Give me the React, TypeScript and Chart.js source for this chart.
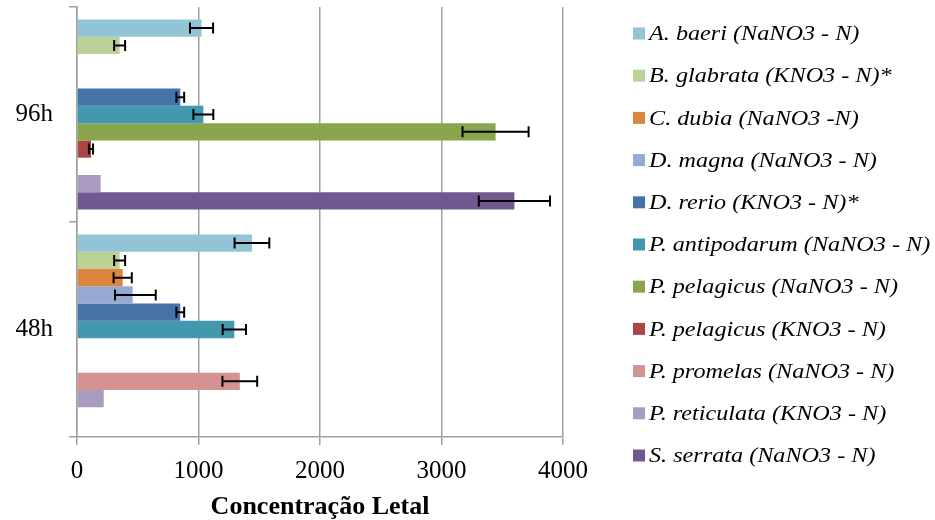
import React, { useEffect, useRef } from 'react';
import { Chart, registerables } from 'chart.js';

Chart.register(...registerables);

// ---- data ----
const categories = ['96h', '48h'];

const seriesNames = [
  'A. baeri (NaNO3 - N)',
  'B. glabrata (KNO3 - N)*',
  'C. dubia (NaNO3 -N)',
  'D. magna (NaNO3 - N)',
  'D. rerio (KNO3 - N)*',
  'P. antipodarum (NaNO3 - N)',
  'P. pelagicus (NaNO3 - N)',
  'P. pelagicus (KNO3 - N)',
  'P. promelas (NaNO3 - N)',
  'P. reticulata (KNO3 - N)',
  'S. serrata (NaNO3 - N)',
];

const seriesColors = [
  '#93C4D5',
  '#BBD197',
  '#DD853E',
  '#95A9D2',
  '#4572A7',
  '#4198AF',
  '#89A54E',
  '#AA4643',
  '#D49392',
  '#AA9CC0',
  '#71588F',
];

type Err = number | [number, number] | null;

// values: [96h, 48h]
const valABaeri: (number | null)[] = [1025, 1440];
const valBGlabrata: (number | null)[] = [351, 351];
const valCDubia: (number | null)[] = [null, 376];
const valDMagna: (number | null)[] = [null, 458];
const valDRerio: (number | null)[] = [850, 850];
const valPAntipodarum: (number | null)[] = [1040, 1295];
const valPPelagicusNa: (number | null)[] = [3445, null];
const valPPelagicusK: (number | null)[] = [115, null];
const valPPromelas: (number | null)[] = [null, 1340];
const valPReticulata: (number | null)[] = [195, 220];
const valSSerrata: (number | null)[] = [3600, null];

// error bars: symmetric value or [minus, plus]
const errABaeri: Err[] = [95, 143];
const errBGlabrata: Err[] = [45, 45];
const errCDubia: Err[] = [null, 75];
const errDMagna: Err[] = [null, [145, 190]];
const errDRerio: Err[] = [32, 32];
const errPAntipodarum: Err[] = [82, 96];
const errPPelagicusNa: Err[] = [272, null];
const errPPelagicusK: Err[] = [17, null];
const errPPromelas: Err[] = [null, 143];
const errPReticulata: Err[] = [null, null];
const errSSerrata: Err[] = [293, null];

const xTicks = [0, 1000, 2000, 3000, 4000];
const xTickLabels = ['0', '1000', '2000', '3000', '4000'];
const xTitle = 'Concentração Letal';

const seriesValues = [
  valABaeri, valBGlabrata, valCDubia, valDMagna, valDRerio, valPAntipodarum,
  valPPelagicusNa, valPPelagicusK, valPPromelas, valPReticulata, valSSerrata,
];
const seriesErrors = [
  errABaeri, errBGlabrata, errCDubia, errDMagna, errDRerio, errPAntipodarum,
  errPPelagicusNa, errPPelagicusK, errPPromelas, errPReticulata, errSSerrata,
];

const SERIF = '"Liberation Serif", "Times New Roman", serif';
const GRID = '#a0a0a0';

const errorBarPlugin = {
  id: 'errorBars',
  afterDatasetsDraw(chart: any) {
    const ctx = chart.ctx;
    const xScale = chart.scales.x;
    ctx.save();
    ctx.strokeStyle = '#000';
    ctx.lineWidth = 2;
    chart.data.datasets.forEach((ds: any, i: number) => {
      const meta = chart.getDatasetMeta(i);
      const errs = seriesErrors[i];
      meta.data.forEach((el: any, j: number) => {
        const v = ds.data[j];
        const e = errs[j];
        if (v == null || e == null) return;
        const minus = Array.isArray(e) ? e[0] : e;
        const plus = Array.isArray(e) ? e[1] : e;
        const x1 = xScale.getPixelForValue(v - minus);
        const x2 = xScale.getPixelForValue(v + plus);
        const y = el.y;
        const cap = 5.5;
        ctx.beginPath();
        ctx.moveTo(x1, y);
        ctx.lineTo(x2, y);
        ctx.moveTo(x1, y - cap);
        ctx.lineTo(x1, y + cap);
        ctx.moveTo(x2, y - cap);
        ctx.lineTo(x2, y + cap);
        ctx.stroke();
      });
    });
    ctx.restore();
  },
};

const sideLegendPlugin = {
  id: 'sideLegend',
  afterDraw(chart: any) {
    const ctx = chart.ctx;
    const boxX = 633;
    const box = 12;
    const textX = 649;
    const firstY = 33.5;
    const step = 42.2;
    const stretch = 1.1;
    ctx.save();
    ctx.font = `italic 22px ${SERIF}`;
    ctx.textBaseline = 'middle';
    ctx.textAlign = 'left';
    chart.data.datasets.forEach((ds: any, i: number) => {
      const cy = firstY + i * step;
      ctx.fillStyle = ds.backgroundColor;
      ctx.fillRect(boxX, cy - box / 2, box, box);
      ctx.fillStyle = '#000';
      ctx.save();
      ctx.translate(textX, cy + 1);
      ctx.scale(stretch, 1);
      ctx.fillText(ds.label, 0, 0);
      ctx.restore();
    });
    ctx.restore();
  },
};

export default function App() {
  const canvasRef = useRef<HTMLCanvasElement | null>(null);

  useEffect(() => {
    if (!canvasRef.current) return;
    const chart = new Chart(canvasRef.current, {
      type: 'bar',
      data: {
        labels: categories,
        datasets: seriesNames.map((name, i) => ({
          label: name,
          data: seriesValues[i],
          backgroundColor: seriesColors[i],
          borderWidth: 0,
          categoryPercentage: 0.884,
          barPercentage: 1.0,
        })),
      },
      options: {
        indexAxis: 'y',
        animation: false,
        responsive: true,
        maintainAspectRatio: false,
        layout: { padding: { top: 7, right: 372, left: 0, bottom: 0 } },
        plugins: {
          legend: { display: false },
          tooltip: { enabled: false },
          title: { display: false },
        },
        scales: {
          x: {
            type: 'linear',
            min: xTicks[0],
            max: xTicks[xTicks.length - 1],
            afterBuildTicks: (scale: any) => {
              scale.ticks = xTicks.map((v) => ({ value: v }));
            },
            afterFit: (scale: any) => {
              scale.height = 83;
              scale.paddingLeft = 0;
              scale.paddingRight = 0;
            },
            ticks: {
              color: '#000',
              font: { family: SERIF, size: 25 },
              padding: 11,
              callback: (_v: any, idx: number) => xTickLabels[idx],
            },
            grid: {
              color: GRID,
              lineWidth: 1.5,
              tickLength: 8,
              drawOnChartArea: true,
              drawTicks: true,
            },
            border: { display: true, color: GRID, width: 1.5 },
            title: {
              display: true,
              text: xTitle,
              color: '#000',
              font: { family: SERIF, size: 26, weight: 'bold' },
              padding: { top: 0, bottom: -3 },
            },
          },
          y: {
            type: 'category',
            offset: true,
            afterFit: (scale: any) => {
              scale.width = 77;
              scale.paddingTop = 0;
              scale.paddingBottom = 0;
            },
            ticks: {
              color: '#000',
              font: { family: SERIF, size: 25 },
              padding: 16,
            },
            grid: {
              offset: true,
              color: GRID,
              lineWidth: 1.5,
              tickLength: 8,
              drawOnChartArea: false,
              drawTicks: true,
            },
            border: { display: true, color: GRID, width: 1.5 },
          },
        },
      },
      plugins: [errorBarPlugin, sideLegendPlugin],
    } as any);
    return () => chart.destroy();
  }, []);

  return (
    <div style={{ position: 'fixed', left: 0, top: 0, width: 935, height: 520, background: '#fff' }}>
      <canvas ref={canvasRef} />
    </div>
  );
}
